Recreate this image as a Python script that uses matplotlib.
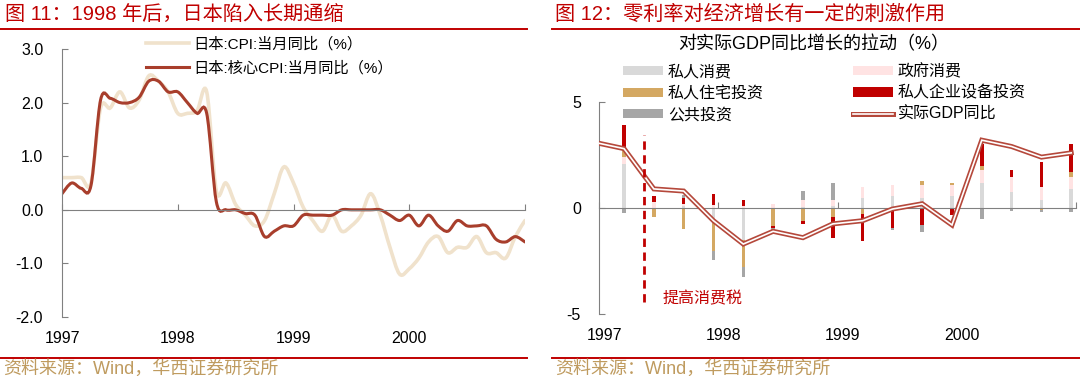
import numpy as np
import matplotlib.pyplot as plt
from matplotlib.lines import Line2D
from matplotlib.path import Path
from matplotlib.patches import PathPatch, Patch
import matplotlib.patheffects as pe
import matplotlib.transforms as mtransforms

plt.rcParams['font.family'] = ['Liberation Sans', 'Noto Sans CJK SC']

# ---- 图11: 日本 CPI 月度同比, 1997-01 ~ 2001-01 ----
cpi = [0.6, 0.6, 0.6, 0.5, 1.9, 1.9, 2.2, 1.9, 2.05, 2.5, 2.4, 2.2,
       1.8, 1.8, 1.85, 2.2, 0.35, 0.5, 0.1, -0.1, -0.3, -0.2, 0.3, 0.8,
       0.5, 0.05, -0.2, -0.4, -0.1, -0.4, -0.3, -0.1, 0.3, -0.1, -0.7, -1.2,
       -1.1, -0.9, -0.6, -0.5, -0.8, -0.7, -0.7, -0.5, -0.8, -0.8, -0.9, -0.5,
       -0.2]
core_cpi = [0.3, 0.5, 0.4, 0.45, 2.05, 2.08, 2.0, 2.0, 2.1, 2.4, 2.4, 2.2,
            2.2, 2.0, 1.8, 1.8, 0.15, 0.0, 0.0, -0.07, -0.1, -0.5, -0.4, -0.3,
            -0.3, -0.1, -0.1, -0.1, -0.1, 0.0, 0.0, 0.0, 0.0, 0.0, -0.1, -0.2,
            -0.1, -0.3, -0.1, -0.3, -0.4, -0.2, -0.3, -0.3, -0.3, -0.55, -0.6, -0.5,
            -0.6]
left_years = [1997, 1998, 1999, 2000]

# ---- 图12: 对实际GDP同比增长的拉动, 季度 ----
gdp_quarters = ['1996Q4',
                '1997Q1', '1997Q2', '1997Q3', '1997Q4',
                '1998Q1', '1998Q2', '1998Q3', '1998Q4',
                '1999Q1', '1999Q2', '1999Q3', '1999Q4',
                '2000Q1', '2000Q2', '2000Q3', '2000Q4']
gdp_yoy = [3.1, 2.8, 0.9, 0.8, -0.6, -1.7, -1.1, -1.4, -0.75,
           -0.6, -0.05, 0.2, -0.8, 3.2, 2.9, 2.4, 2.6]
bar_quarters = gdp_quarters[1:]
private_consumption = [2.06, 0.0, 0.08, -0.72, -1.51, 0.0, 0.05, 0.1,
                       0.49, 0.58, 0.49, 0.58, 1.19, 0.77, 0.38, 0.88]
gov_consumption = [0.36, 0.27, 0.09, 0.12, 0.1, 0.17, 0.33, 0.28,
                   0.51, 0.5, 0.59, 0.5, 0.6, 0.71, 0.59, 0.6]
housing_inv = [0.35, -0.41, -1.0, -1.32, -1.26, -0.83, -0.61, -0.41,
               -0.3, 0.0, 0.19, 0.11, 0.21, 0.0, -0.1, 0.2]
equipment_inv = [1.15, 0.31, 0.32, 0.55, 0.3, -0.1, -0.13, -1.02,
                 -1.24, -0.93, -0.8, -0.33, 1.0, 0.31, 1.21, 1.32]
public_inv = [-0.22, 0.0, 0.12, -0.42, -0.47, -0.1, 0.4, 0.8,
              0.0, -0.1, -0.35, 0.0, -0.52, -0.13, -0.1, -0.2]
right_years = [1997, 1998, 1999, 2000]
tax_hike = 1997.38   # 1997年4月提高消费税

RED = '#c00000'
GRAY = '#808080'
GOLD = '#bf9b5f'


def smooth_path(x, y):
    # Excel 风格的平滑线 (Catmull-Rom -> Bezier)
    x = np.asarray(x, float)
    y = np.asarray(y, float)
    n = len(x)
    verts = [(x[0], y[0])]
    codes = [Path.MOVETO]
    for i in range(n - 1):
        j0 = max(i - 1, 0)
        j3 = min(i + 2, n - 1)
        c1 = (x[i] + (x[i + 1] - x[j0]) / 6, y[i] + (y[i + 1] - y[j0]) / 6)
        c2 = (x[i + 1] - (x[j3] - x[i]) / 6, y[i + 1] - (y[j3] - y[i]) / 6)
        verts += [c1, c2, (x[i + 1], y[i + 1])]
        codes += [Path.CURVE4] * 3
    return Path(verts, codes)


def quarter_pos(q):
    year, qq = int(q[:4]), int(q[-1])
    return year + (qq - 1) * 0.25 + 0.21


def style_axes(ax, years, pad_y):
    for s in ['top', 'right']:
        ax.spines[s].set_visible(False)
    ax.spines['left'].set_color(GRAY)
    ax.spines['left'].set_linewidth(0.8)
    ax.spines['bottom'].set_position(('data', 0))
    ax.spines['bottom'].set_color(GRAY)
    ax.spines['bottom'].set_linewidth(0.8)
    ax.set_xticks(years + [years[-1] + 1])
    ax.tick_params(axis='x', direction='in', length=4, color=GRAY,
                   labelbottom=False)
    ax.tick_params(axis='y', direction='in', length=4, color=GRAY,
                   labelsize=11.5, pad=pad_y)
    sec = ax.secondary_xaxis('bottom')
    sec.set_xticks(years, [str(y) for y in years])
    sec.tick_params(length=0, labelsize=11.5, pad=10)
    sec.spines['bottom'].set_visible(False)
    return sec


fig = plt.figure(figsize=(10.8, 3.76), dpi=100)

# ---------------- 左图 ----------------
ax1 = fig.add_axes([62 / 1080, 1 - 317 / 376, 463 / 1080, 268 / 376])
months = 1997 + np.arange(len(cpi)) / 12
ax1.add_patch(PathPatch(smooth_path(months, cpi), fill=False,
                        edgecolor='#f0e2cc', lw=2.6, capstyle='round'))
ax1.add_patch(PathPatch(smooth_path(months, core_cpi), fill=False,
                        edgecolor='#a83e2c', lw=2.2, capstyle='round'))
ax1.set_xlim(1997, 2001)
ax1.set_ylim(-2, 3)
ax1.set_yticks([-2, -1, 0, 1, 2, 3], ['%.1f' % v for v in [-2, -1, 0, 1, 2, 3]])
style_axes(ax1, left_years, 13.5)

h1 = [Line2D([], [], color='#f0e2cc', lw=2.6),
      Line2D([], [], color='#a83e2c', lw=2.2)]
fig.legend(h1, ['日本:CPI:当月同比（%）', '日本:核心CPI:当月同比（%）'],
           loc='upper left', bbox_to_anchor=(146 / 1080, 1 - 37 / 376),
           frameon=False, fontsize=11, handlelength=2.8, handletextpad=0.3,
           labelspacing=0.6, borderpad=0, borderaxespad=0)

# ---------------- 右图 ----------------
ax2 = fig.add_axes([599 / 1080, 1 - 314 / 376, 477 / 1080, 212 / 376])
xq = np.array([quarter_pos(q) for q in bar_quarters])
comps = [('私人消费', private_consumption, '#d9d9d9'),
         ('政府消费', gov_consumption, '#ffe3e3'),
         ('私人住宅投资', housing_inv, '#d4a862'),
         ('私人企业设备投资', equipment_inv, RED),
         ('公共投资', public_inv, '#a6a6a6')]
pos_base = np.zeros(len(xq))
neg_base = np.zeros(len(xq))
bar_handles = {}
for name, vals, color in comps:
    v = np.array(vals)
    base = np.where(v >= 0, pos_base, neg_base)
    ax2.bar(xq, v, bottom=base, width=0.03, color=color, linewidth=0)
    bar_handles[name] = Patch(facecolor=color, edgecolor='none')
    pos_base += np.clip(v, 0, None)
    neg_base += np.clip(v, None, 0)

gdp_fx = [pe.Stroke(linewidth=3.6, foreground='#b5483b'), pe.Normal()]
xg = [quarter_pos(q) for q in gdp_quarters]
ax2.plot(xg, gdp_yoy, color='white', lw=1.2, path_effects=gdp_fx,
         solid_joinstyle='miter', zorder=3)
ax2.vlines(tax_hike, -4.45, 3.45, colors=RED, lw=2.0,
           linestyles=(0, (3, 2)), zorder=4)
ax2.text(1997.87, -4.3, '提高消费税', color=RED, fontsize=11.5,
         ha='center', va='center', family=['Noto Sans CJK SC'])
ax2.set_xlim(1997, 2001)
ax2.set_ylim(-5, 5)
ax2.set_yticks([-5, 0, 5], ['-5', '0', '5'])
sec2 = style_axes(ax2, right_years, 13)
off = mtransforms.ScaledTranslation(5 / 100, 0, fig.dpi_scale_trans)
for lab in sec2.get_xticklabels():
    lab.set_transform(lab.get_transform() + off)

fig.text(814 / 1080, 1 - 45 / 376, '对实际GDP同比增长的拉动（%）',
         fontsize=13, ha='center', va='center')
gdp_handle = Line2D([], [], color='white', lw=1.2, path_effects=gdp_fx)
order = ['私人消费', '私人住宅投资', '公共投资', '政府消费', '私人企业设备投资']
handles2 = [bar_handles[k] for k in order[:3]] + \
           [bar_handles[k] for k in order[3:]] + [gdp_handle]
labels2 = order + ['实际GDP同比']
fig.legend(handles2, labels2, ncol=2, loc='upper left',
           bbox_to_anchor=(623 / 1080, 1 - 64 / 376), frameon=False,
           fontsize=11.5, handlelength=2.5, handleheight=0.5,
           handletextpad=0.3, labelspacing=0.38, columnspacing=5.6,
           borderpad=0, borderaxespad=0)

# ---------------- 标题 / 来源 ----------------
fig.text(5 / 1080, 1 - 14 / 376, '图 11：1998 年后，日本陷入长期通缩',
         color=RED, fontsize=14.5, va='center')
fig.text(555 / 1080, 1 - 14 / 376, '图 12：零利率对经济增长有一定的刺激作用',
         color=RED, fontsize=14.5, va='center')
for x0, x1 in [(0, 527), (552, 1080)]:
    for yy in [29, 358]:
        fig.add_artist(Line2D([x0 / 1080, x1 / 1080], [1 - yy / 376] * 2,
                              color=RED, lw=1.4, transform=fig.transFigure))
fig.text(3 / 1080, 1 - 369 / 376, '资料来源：Wind，华西证券研究所',
         color=GOLD, fontsize=13, va='center')
fig.text(555 / 1080, 1 - 369 / 376, '资料来源：Wind，华西证券研究所',
         color=GOLD, fontsize=13, va='center')

fig.savefig('out.png', dpi=100)
